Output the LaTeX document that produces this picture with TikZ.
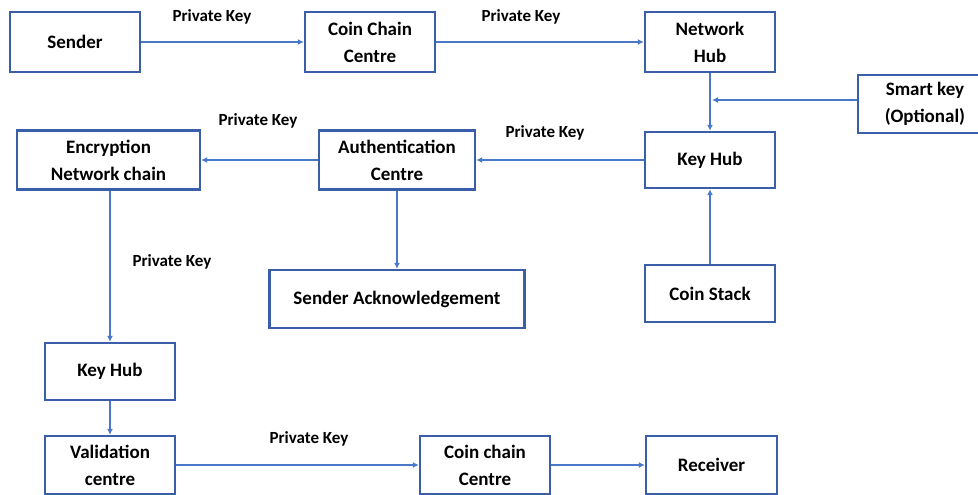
\documentclass[tikz,border=0pt]{standalone}
\usepackage{fontspec}
\setmainfont{Carlito}
\usetikzlibrary{arrows.meta}
\definecolor{boxblue}{HTML}{3A5FA8}
\definecolor{linkblue}{HTML}{4A78C8}
\tikzset{
  x=1pt, y=-1pt,
  box/.style={draw=boxblue, line width=2.4pt, fill=white, align=center,
    font=\bfseries\fontsize{19}{27}\selectfont, inner sep=0pt},
  link/.style={draw=linkblue, line width=2pt, -{Latex[length=6pt,width=6pt]}},
  keylabel/.style={font=\bfseries\fontsize{17}{18}\selectfont, inner sep=0pt}
}
\begin{document}
\begin{tikzpicture}
\useasboundingbox (0,0) rectangle (978,495);
\clip (0,0) rectangle (978,495);
% top row
\node[box, minimum width=130pt, minimum height=60pt] (sender) at (75,42) {Sender};
\node[box, minimum width=130pt, minimum height=60pt] (ccc) at (370,42) {Coin Chain\\Centre};
\node[box, minimum width=130pt, minimum height=60pt] (nhub) at (710,42) {Network\\Hub};
\node[box, minimum width=134pt, minimum height=58pt] (smart) at (925,104) {Smart key\\(Optional)};
% second row
\node[box, minimum width=130pt, minimum height=56pt] (khr) at (710,160) {Key Hub};
\node[box, minimum width=156pt, minimum height=59pt] (auth) at (397,160) {Authentication\\Centre};
\node[box, minimum width=183pt, minimum height=59pt] (enc) at (108.5,160) {Encryption\\Network chain};
% third row
\node[box, minimum width=255pt, minimum height=58pt] (ack) at (397,299) {Sender Acknowledgement};
\node[box, minimum width=130pt, minimum height=57pt] (stack) at (710,293.5) {Coin Stack};
% left column and bottom row
\node[box, minimum width=130pt, minimum height=57pt] (khl) at (110,371.5) {Key Hub};
\node[box, minimum width=130pt, minimum height=58pt] (valid) at (110,465) {Validation\\centre};
\node[box, minimum width=130pt, minimum height=58pt] (ccb) at (485,465) {Coin chain\\Centre};
\node[box, minimum width=131pt, minimum height=58pt] (recv) at (711.5,465) {Receiver};
% connectors
\draw[link] (sender) -- (ccc);
\draw[link] (ccc) -- (nhub);
\draw[link] (nhub) -- (khr);
\coordinate (join) at (712,100);
\draw[link] (smart.west |- join) -- (join);
\draw[link] (khr) -- (auth);
\draw[link] (auth) -- (enc);
\draw[link] (auth) -- (ack);
\draw[link] (khl.north |- enc.south) -- (khl.north);
\draw[link] (khl) -- (valid);
\draw[link] (stack) -- (khr);
\draw[link] (valid) -- (ccb);
\draw[link] (ccb) -- (recv);
% key labels
\node[keylabel] (l1) at (212,17) {Private Key};
\node[keylabel] (l2) at (521,17) {Private Key};
\node[keylabel] (l3) at (545,133) {Private Key};
\node[keylabel] (l4) at (258,121) {Private Key};
\node[keylabel] (l5) at (172,262) {Private Key};
\node[keylabel] (l6) at (309,439) {Private Key};
\end{tikzpicture}
\end{document}
